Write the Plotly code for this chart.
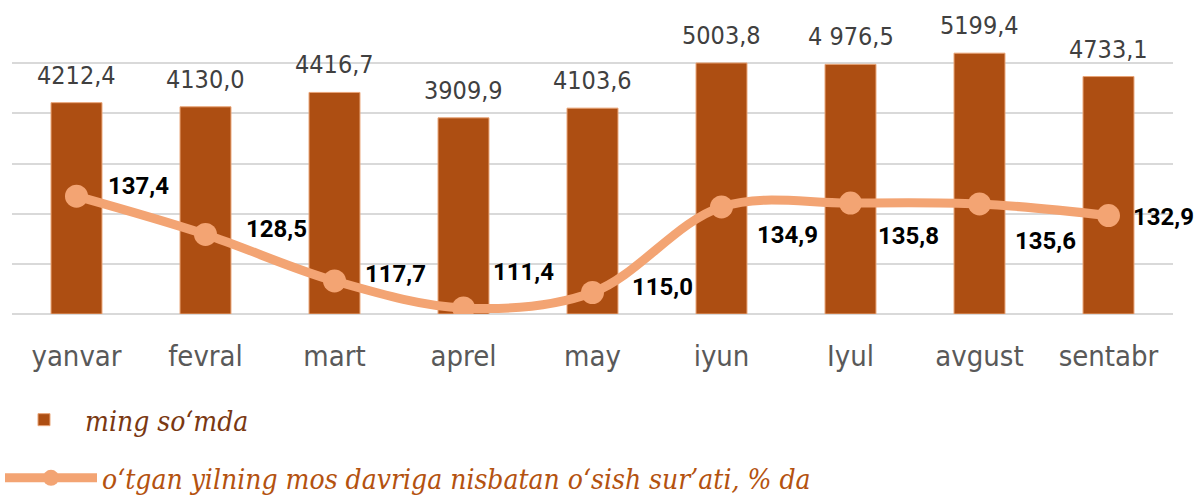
import plotly.graph_objects as go

months = ["yanvar", "fevral", "mart", "aprel", "may", "iyun", "Iyul", "avgust", "sentabr"]
income = [4212.4, 4130.0, 4416.7, 3909.9, 4103.6, 5003.8, 4976.5, 5199.4, 4733.1]
income_labels = ["4212,4", "4130,0", "4416,7", "3909,9", "4103,6", "5003,8", "4 976,5", "5199,4", "4733,1"]
growth = [137.4, 128.5, 117.7, 111.4, 115.0, 134.9, 135.8, 135.6, 132.9]
growth_labels = ["137,4", "128,5", "117,7", "111,4", "115,0", "134,9", "135,8", "135,6", "132,9"]

bar_name = "ming so‘mda"
line_name = "o‘tgan yilning mos davriga nisbatan o‘sish sur’ati, % da"

# label offsets (px) for the growth labels: left-edge x shift, vertical shift (up positive)
g_dx = [29, 38, 28, 27, 37, 33, 25, 33, 22]
g_dy = [10, 5, 7, 36, 6, -28, -33, -37, -1]

BAR = "#AD4E12"
LINE = "#F3A473"
LEG_FONT = dict(family="DejaVu Serif Condensed", size=28)

fig = go.Figure()
fig.add_trace(go.Bar(
    x=months, y=income,
    name=f'<span style="color:#7A3812"><i>{bar_name}</i></span>',
    marker=dict(color=BAR, line=dict(color="#E9A477", width=1)),
    legend="legend",
    hoverinfo="skip",
))
fig.add_trace(go.Scatter(
    x=months, y=growth, yaxis="y2",
    mode="lines+markers",
    name=f'<span style="color:#B4520F"><i>{line_name}</i></span>',
    line=dict(color=LINE, width=9, shape="spline", smoothing=1.0),
    marker=dict(color=LINE, size=23),
    legend="legend2",
    hoverinfo="skip",
))

annotations = []
for m, v, t in zip(months, income, income_labels):
    annotations.append(dict(
        x=m, y=v, xref="x", yref="y", text=t, showarrow=False,
        yanchor="bottom", yshift=11,
        font=dict(family="DejaVu Sans Condensed", size=25, color="#404040"),
    ))
for m, v, t, dx, dy in zip(months, growth, growth_labels, g_dx, g_dy):
    annotations.append(dict(
        x=m, y=v, xref="x", yref="y2", text=t, showarrow=False,
        xanchor="left", yanchor="middle", xshift=dx, yshift=dy,
        font=dict(family="Roboto", size=24, color="#000000", weight="bold"),
    ))

fig.update_layout(
    width=1197, height=497,
    margin=dict(l=11.5, r=24, t=12.7, b=182.7, autoexpand=False),
    paper_bgcolor="white", plot_bgcolor="white",
    bargap=0.605,
    showlegend=True,
    legend=dict(
        xref="container", yref="container",
        x=0.0025, y=0.155, xanchor="left", yanchor="middle",
        font=LEG_FONT, itemwidth=72, bgcolor="rgba(0,0,0,0)",
    ),
    legend2=dict(
        xref="container", yref="container",
        x=0.0, y=0.038, xanchor="left", yanchor="middle",
        font=LEG_FONT, itemwidth=92, bgcolor="rgba(0,0,0,0)",
    ),
    xaxis=dict(
        range=[-0.5, 8.5],
        showgrid=False, showline=False, ticks="",
        tickfont=dict(family="DejaVu Sans Condensed", size=29, color="#595959"),
        ticklabelstandoff=22,
    ),
    yaxis=dict(
        range=[0, 6000], dtick=1000, showticklabels=False,
        showgrid=True, gridcolor="#D9D9D9", gridwidth=2,
        zeroline=True, zerolinecolor="#D9D9D9", zerolinewidth=2,
    ),
    yaxis2=dict(
        range=[110, 180], overlaying="y", side="right",
        showgrid=False, showticklabels=False, zeroline=False, showline=False,
    ),
    annotations=annotations,
)

fig.write_html("out.html", config={"displayModeBar": False},
               post_script="document.body.style.margin='0';")
